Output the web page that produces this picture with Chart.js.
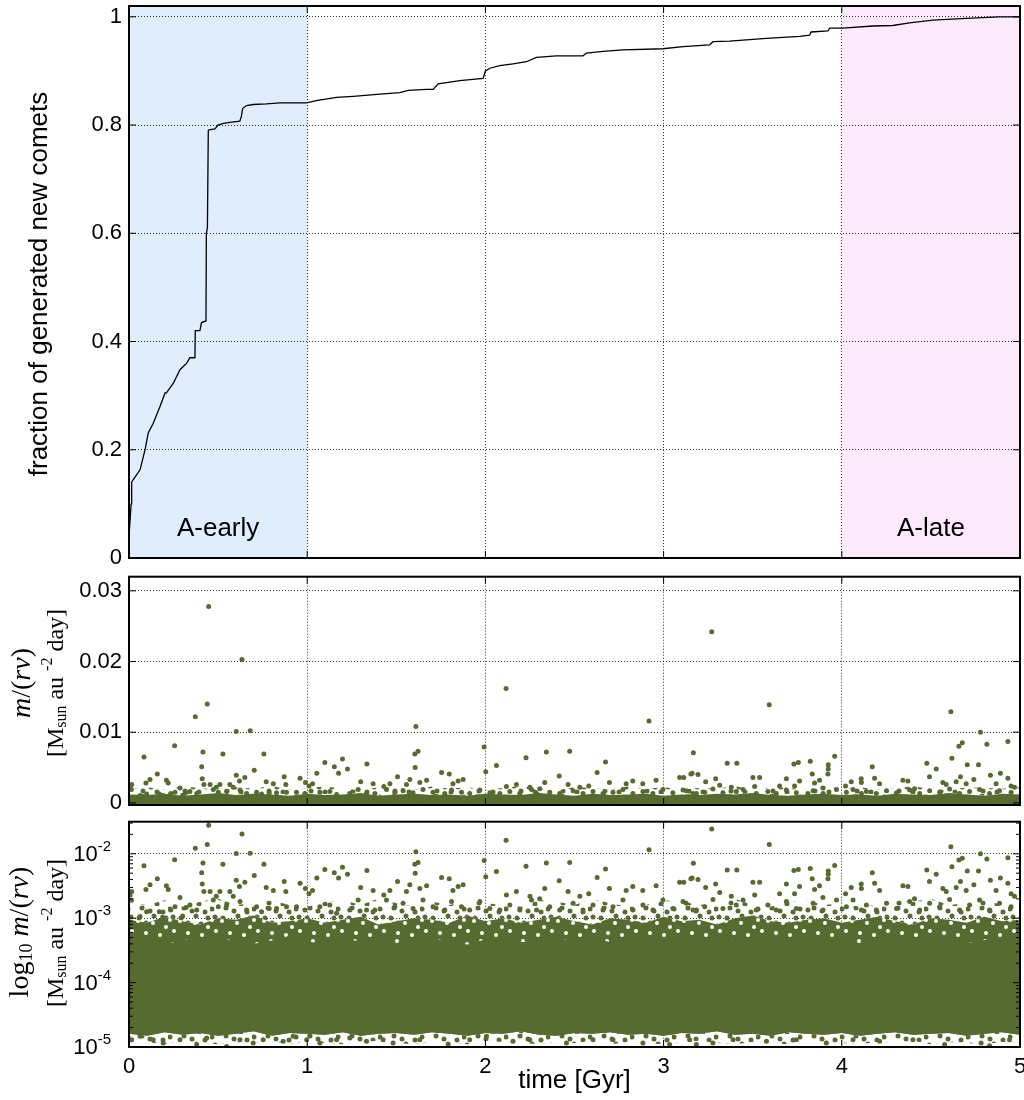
<!DOCTYPE html>
<html>
<head>
<meta charset="utf-8">
<script src="https://cdn.jsdelivr.net/npm/chart.js@4.4.1/dist/chart.umd.min.js"></script>
<style>
  body { margin: 0; background: #fff; }
  .panel { position: absolute; left: 0; width: 1024px; }
</style>
</head>
<body>
<div class="panel" style="top:0;height:570px"><canvas id="cdf"></canvas></div>
<div class="panel" style="top:570px;height:240px"><canvas id="lin"></canvas></div>
<div class="panel" style="top:810px;height:290px"><canvas id="log"></canvas></div>
<script>
// ---- axes ----
const xTicks = [0, 1, 2, 3, 4, 5];
const cdfTicks = [0, 0.2, 0.4, 0.6, 0.8, 1];
const linTicks = [0, 0.01, 0.02, 0.03];
const logTicks = [1e-5, 1e-4, 1e-3, 1e-2];

// ---- shaded epochs in the top panel ----
const regionNames = ['A-early', 'A-late'];
const regionStart = [0, 4];
const regionEnd = [1, 5];
const regionColors = ['#dfedfc', '#fdeafc'];

// ---- cumulative fraction of generated new comets ----
const cdfTime = [0, 0.012, 0.015, 0.024, 0.062, 0.09, 0.108, 0.136, 0.174, 0.202,
  0.21, 0.249, 0.286, 0.324, 0.342, 0.37, 0.372, 0.398, 0.407, 0.432,
  0.434, 0.44, 0.445, 0.45, 0.482, 0.5, 0.53, 0.566, 0.622, 0.63,
  0.638, 0.66, 0.697, 0.772, 0.847, 0.997, 1.05, 1.165, 1.258, 1.408,
  1.52, 1.567, 1.67, 1.707, 1.735, 1.856, 1.987, 2.0, 2.025, 2.08,
  2.155, 2.23, 2.286, 2.398, 2.548, 2.567, 2.66, 2.772, 2.997, 3.109,
  3.258, 3.277, 3.37, 3.577, 3.763, 3.819, 3.828, 3.922, 3.932, 4.006,
  4.174, 4.286, 4.38, 4.511, 4.698, 4.885, 5.0];
const cdfFraction = [0.04, 0.1, 0.14, 0.145, 0.163, 0.2, 0.231, 0.249, 0.28, 0.305,
  0.305, 0.323, 0.348, 0.36, 0.37, 0.37, 0.42, 0.42, 0.435, 0.438,
  0.6, 0.61, 0.79, 0.791, 0.793, 0.8, 0.803, 0.805, 0.807, 0.815,
  0.831, 0.836, 0.838, 0.839, 0.841, 0.841, 0.845, 0.851, 0.853, 0.857,
  0.86, 0.864, 0.866, 0.866, 0.876, 0.882, 0.886, 0.9, 0.905, 0.91,
  0.913, 0.917, 0.925, 0.928, 0.928, 0.933, 0.936, 0.939, 0.941, 0.945,
  0.948, 0.954, 0.955, 0.96, 0.964, 0.966, 0.972, 0.974, 0.979, 0.979,
  0.983, 0.984, 0.989, 0.994, 0.997, 1.0, 1.0];

// ---- m/(rv) of individual comets: [time Gyr, value] ----
const outlierPoints = [
  [0.447, 0.0278], [0.634, 0.0203], [0.439, 0.014], [0.372, 0.0122], [0.602, 0.0101],
  [0.68, 0.0102], [0.084, 0.0065], [0.256, 0.0081], [0.415, 0.0072], [0.408, 0.0051],
  [0.527, 0.0069], [0.757, 0.0069], [0.703, 0.0046], [0.602, 0.0039], [0.159, 0.0041],
  [0.871, 0.0037], [1.054, 0.0042], [1.099, 0.0057], [1.152, 0.0051], [1.176, 0.0042],
  [1.198, 0.0062], [1.226, 0.0048], [1.335, 0.0055], [1.507, 0.0037], [1.604, 0.0069],
  [1.606, 0.005], [1.61, 0.0108], [1.622, 0.0073], [1.754, 0.0043], [1.797, 0.0041],
  [1.993, 0.0079], [2.002, 0.0044], [2.062, 0.0053], [2.116, 0.0162], [2.228, 0.0064],
  [2.342, 0.0072], [2.414, 0.0038], [2.473, 0.0073], [2.627, 0.0043], [2.674, 0.0058],
  [2.918, 0.0116], [3.153, 0.0041], [3.16, 0.0042], [3.167, 0.0071], [3.27, 0.0242],
  [3.357, 0.0056], [3.411, 0.0056], [3.593, 0.0139], [3.731, 0.0055], [3.756, 0.0057],
  [3.823, 0.0059], [3.834, 0.0041], [3.922, 0.0041], [3.924, 0.0054], [3.924, 0.0048],
  [3.96, 0.0066], [4.171, 0.0051], [4.477, 0.0056], [4.53, 0.0048], [4.612, 0.0129],
  [4.618, 0.0063], [4.657, 0.008], [4.676, 0.0085], [4.704, 0.0054], [4.767, 0.0054],
  [4.778, 0.01], [4.814, 0.0083], [4.834, 0.0039], [4.89, 0.0042], [4.932, 0.0087]
];
const midPoints = [
  [0.006, 2.3e-3], [0.014, 1.9e-3], [0.015, 2.6e-3], [0.095, 2.8e-3], [0.118, 3.3e-3],
  [0.21, 3.2e-3], [0.22, 2.8e-3], [0.286, 2.1e-3], [0.411, 3.4e-3], [0.42, 2.6e-3],
  [0.455, 2.6e-3], [0.49, 2.2e-3], [0.51, 2.6e-3], [0.566, 2.6e-3], [0.585, 2.2e-3],
  [0.62, 3.1e-3], [0.65, 3.6e-3], [0.77, 3.0e-3], [0.81, 2.7e-3], [0.88, 2.6e-3],
  [0.96, 3.5e-3], [0.99, 2.9e-3], [1.01, 2.4e-3], [1.03, 2.7e-3], [1.3, 3.0e-3],
  [1.37, 2.7e-3], [1.43, 2.3e-3], [1.464, 2.7e-3], [1.557, 2.6e-3], [1.576, 3.3e-3],
  [1.632, 2.9e-3], [1.67, 3.2e-3], [1.818, 2.7e-3], [1.847, 3.1e-3], [1.875, 3.3e-3],
  [2.118, 2.3e-3], [2.174, 2.6e-3], [2.25, 2.2e-3], [2.305, 2.0e-3], [2.333, 2.9e-3],
  [2.464, 2.6e-3], [2.53, 2.2e-3], [2.58, 2.4e-3], [2.696, 2.9e-3], [2.79, 2.7e-3],
  [2.827, 3.1e-3], [2.883, 2.7e-3], [2.958, 3.2e-3], [3.09, 3.6e-3], [3.113, 3.6e-3],
  [3.193, 4.0e-3], [3.236, 3.0e-3], [3.292, 3.4e-3], [3.315, 2.5e-3], [3.38, 2.2e-3],
  [3.501, 3.6e-3], [3.511, 2.3e-3], [3.539, 3.6e-3], [3.651, 2.4e-3], [3.689, 3.4e-3],
  [3.735, 2.4e-3], [3.763, 3.1e-3], [3.847, 2.8e-3], [3.875, 3.2e-3], [3.894, 2.1e-3],
  [4.021, 2.4e-3], [4.053, 3.0e-3], [4.109, 3.4e-3], [4.11, 2.9e-3], [4.184, 3.5e-3],
  [4.212, 2.7e-3], [4.343, 3.2e-3], [4.371, 3.1e-3], [4.408, 2.0e-3], [4.492, 3.7e-3],
  [4.567, 2.9e-3], [4.586, 2.6e-3], [4.642, 3.0e-3], [4.666, 3.7e-3], [4.698, 2.7e-3],
  [4.741, 3.3e-3], [4.866, 2.7e-3], [4.932, 3.5e-3], [4.95, 2.4e-3], [4.969, 2.2e-3]
];
const edgePoints = [
  [0.062, 1.06e-3], [0.099, 1.26e-3], [0.17, 1.26e-3], [0.189, 1.03e-3], [0.234, 1.34e-3],
  [0.258, 1.51e-3], [0.301, 1.08e-3], [0.32, 1.46e-3], [0.342, 1.6e-3], [0.38, 1.34e-3],
  [0.473, 1.91e-3], [0.501, 1.51e-3], [0.548, 1.6e-3], [0.623, 1.81e-3], [0.66, 1.34e-3],
  [0.716, 1.51e-3], [0.744, 1.26e-3], [0.787, 1.42e-3], [0.828, 1.42e-3], [0.884, 1.51e-3],
  [0.94, 1.51e-3], [0.987, 1.34e-3], [1.071, 1.51e-3], [1.127, 1.6e-3], [1.165, 1.19e-3],
  [1.239, 1.34e-3], [1.286, 1.91e-3], [1.333, 1.34e-3], [1.38, 1.34e-3], [1.445, 1.91e-3],
  [1.492, 1.51e-3], [1.538, 1.7e-3], [1.594, 1.42e-3], [1.65, 1.91e-3], [1.706, 1.51e-3],
  [1.772, 1.34e-3], [1.81, 1.81e-3], [1.866, 1.51e-3], [1.912, 1.34e-3], [1.969, 1.81e-3],
  [2.025, 1.42e-3], [2.081, 1.34e-3], [2.137, 1.6e-3], [2.193, 1.34e-3], [2.259, 1.91e-3],
  [2.287, 1.34e-3], [2.361, 1.51e-3], [2.417, 1.34e-3], [2.492, 1.7e-3], [2.548, 1.34e-3],
  [2.604, 1.6e-3], [2.66, 1.34e-3], [2.716, 1.51e-3], [2.772, 1.91e-3], [2.828, 1.34e-3],
  [2.884, 1.6e-3], [2.94, 1.34e-3], [2.996, 1.91e-3], [3.052, 1.42e-3], [3.127, 1.7e-3],
  [3.184, 1.34e-3], [3.109, 1.81e-3], [3.165, 1.34e-3], [3.231, 1.51e-3], [3.277, 1.95e-3],
  [3.333, 1.42e-3], [3.408, 1.6e-3], [3.446, 1.91e-3], [3.52, 1.34e-3], [3.585, 1.6e-3],
  [3.632, 1.34e-3], [3.689, 1.81e-3], [3.745, 1.42e-3], [3.81, 1.34e-3], [3.839, 1.7e-3],
  [3.895, 1.34e-3], [3.97, 1.91e-3], [4.026, 1.51e-3], [4.063, 1.91e-3], [4.11, 1.34e-3],
  [4.138, 1.6e-3], [4.194, 1.34e-3], [4.251, 1.7e-3], [4.307, 1.42e-3], [4.381, 1.81e-3],
  [4.437, 1.34e-3], [4.493, 1.7e-3], [4.549, 1.51e-3], [4.605, 1.95e-3], [4.661, 1.34e-3],
  [4.717, 1.6e-3], [4.773, 1.91e-3], [4.829, 1.34e-3], [4.885, 1.7e-3], [4.95, 1.51e-3]
];
const lowPoints = [
  [0.015, 1.3e-5], [0.062, 1.47e-5], [0.136, 1.3e-5], [0.192, 1.15e-5], [0.286, 1.3e-5],
  [0.38, 1.09e-5], [0.436, 1.38e-5], [0.548, 1.02e-5], [0.623, 1.3e-5], [0.697, 1.15e-5],
  [0.753, 1.3e-5], [0.865, 1.23e-5], [0.921, 1.47e-5], [0.997, 1.3e-5], [1.071, 1.15e-5],
  [1.165, 1.3e-5], [1.239, 1.38e-5], [1.333, 1.23e-5], [1.426, 1.3e-5], [1.482, 1.15e-5],
  [1.632, 1.3e-5], [1.791, 1.09e-5], [1.912, 1.3e-5], [2.006, 1.47e-5], [2.155, 1.23e-5],
  [2.249, 1.3e-5], [2.455, 1.15e-5], [2.604, 1.3e-5], [2.716, 1.3e-5], [2.884, 1.15e-5],
  [3.034, 1.09e-5], [3.146, 1.3e-5], [3.184, 1.09e-5], [3.277, 1.15e-5], [3.39, 1.3e-5],
  [3.577, 1.23e-5], [3.745, 1.3e-5], [3.913, 1.15e-5], [4.063, 1.3e-5], [4.212, 1.23e-5],
  [4.399, 1.3e-5], [4.577, 1.09e-5], [4.782, 1.15e-5], [4.829, 1.05e-5], [4.941, 1.3e-5]
];

// ---- envelopes of the dense cloud (too many comets to list one by one) ----
const bandTime = [0, 0.1, 0.2, 0.3, 0.4, 0.5, 0.6, 0.7, 0.8, 0.9,
  1.0, 1.1, 1.2, 1.3, 1.4, 1.5, 1.6, 1.7, 1.8, 1.9,
  2.0, 2.1, 2.2, 2.3, 2.4, 2.5, 2.6, 2.7, 2.8, 2.9,
  3.0, 3.1, 3.2, 3.3, 3.4, 3.5, 3.6, 3.7, 3.8, 3.9,
  4.0, 4.1, 4.2, 4.3, 4.4, 4.5, 4.6, 4.7, 4.8, 4.9, 5.0];
// linear panel: top of the solid strip, top of the speckled zone above it
const stripTop = [1.2e-3, 1.1e-3, 1.3e-3, 1.0e-3, 1.2e-3, 1.4e-3, 1.1e-3, 1.3e-3, 1.2e-3, 1.0e-3,
  1.3e-3, 1.1e-3, 1.2e-3, 1.4e-3, 1.0e-3, 1.2e-3, 1.3e-3, 1.1e-3, 1.2e-3, 1.0e-3,
  1.3e-3, 1.2e-3, 1.1e-3, 1.4e-3, 1.2e-3, 1.0e-3, 1.3e-3, 1.1e-3, 1.2e-3, 1.3e-3,
  1.0e-3, 1.2e-3, 1.1e-3, 1.3e-3, 1.2e-3, 1.4e-3, 1.1e-3, 1.0e-3, 1.2e-3, 1.3e-3,
  1.1e-3, 1.2e-3, 1.0e-3, 1.3e-3, 1.2e-3, 1.1e-3, 1.4e-3, 1.2e-3, 1.0e-3, 1.3e-3, 1.2e-3];
const stripSpeck = [2.0e-3, 2.2e-3, 1.9e-3, 2.3e-3, 2.1e-3, 1.8e-3, 2.2e-3, 2.0e-3, 2.4e-3, 1.9e-3,
  2.1e-3, 2.3e-3, 2.0e-3, 1.8e-3, 2.2e-3, 2.1e-3, 1.9e-3, 2.3e-3, 2.0e-3, 2.2e-3,
  1.9e-3, 2.1e-3, 2.4e-3, 2.0e-3, 1.8e-3, 2.2e-3, 2.1e-3, 1.9e-3, 2.3e-3, 2.0e-3,
  2.2e-3, 1.9e-3, 2.1e-3, 2.0e-3, 2.4e-3, 1.8e-3, 2.2e-3, 2.1e-3, 1.9e-3, 2.3e-3,
  2.0e-3, 2.2e-3, 1.9e-3, 2.1e-3, 2.3e-3, 2.0e-3, 1.8e-3, 2.2e-3, 2.1e-3, 2.0e-3, 2.2e-3];
// log panel: speckled floor, solid core (low/high), holed zone up to denseTop, loose speckle up to speckTop
const floorLow = [1.15e-5, 1.2e-5, 1.1e-5, 1.25e-5, 1.15e-5, 1.1e-5, 1.2e-5, 1.15e-5, 1.25e-5, 1.1e-5,
  1.2e-5, 1.15e-5, 1.1e-5, 1.2e-5, 1.25e-5, 1.15e-5, 1.1e-5, 1.2e-5, 1.15e-5, 1.1e-5,
  1.25e-5, 1.2e-5, 1.15e-5, 1.1e-5, 1.2e-5, 1.15e-5, 1.25e-5, 1.1e-5, 1.2e-5, 1.15e-5,
  1.1e-5, 1.2e-5, 1.25e-5, 1.15e-5, 1.1e-5, 1.2e-5, 1.15e-5, 1.1e-5, 1.25e-5, 1.2e-5,
  1.15e-5, 1.1e-5, 1.2e-5, 1.15e-5, 1.25e-5, 1.1e-5, 1.2e-5, 1.15e-5, 1.1e-5, 1.2e-5, 1.15e-5];
const coreLow = [1.6e-5, 1.5e-5, 1.7e-5, 1.55e-5, 1.65e-5, 1.5e-5, 1.6e-5, 1.75e-5, 1.5e-5, 1.65e-5,
  1.6e-5, 1.55e-5, 1.7e-5, 1.5e-5, 1.6e-5, 1.65e-5, 1.55e-5, 1.7e-5, 1.6e-5, 1.5e-5,
  1.65e-5, 1.6e-5, 1.75e-5, 1.55e-5, 1.5e-5, 1.65e-5, 1.6e-5, 1.7e-5, 1.55e-5, 1.6e-5,
  1.5e-5, 1.65e-5, 1.6e-5, 1.75e-5, 1.55e-5, 1.6e-5, 1.5e-5, 1.7e-5, 1.6e-5, 1.55e-5,
  1.65e-5, 1.5e-5, 1.6e-5, 1.7e-5, 1.55e-5, 1.6e-5, 1.65e-5, 1.5e-5, 1.6e-5, 1.7e-5, 1.55e-5];
const coreHigh = [4.4e-4, 4.8e-4, 3.9e-4, 4.6e-4, 5.1e-4, 4.2e-4, 5.0e-4, 4.0e-4, 4.5e-4, 5.3e-4,
  4.3e-4, 4.0e-4, 4.8e-4, 4.4e-4, 5.2e-4, 4.1e-4, 4.6e-4, 5.0e-4, 4.2e-4, 3.9e-4,
  4.7e-4, 5.1e-4, 4.3e-4, 4.0e-4, 4.9e-4, 4.5e-4, 5.3e-4, 4.2e-4, 4.4e-4, 5.0e-4,
  4.1e-4, 4.6e-4, 5.2e-4, 4.3e-4, 4.8e-4, 4.4e-4, 5.4e-4, 4.2e-4, 4.6e-4, 5.0e-4,
  4.5e-4, 4.0e-4, 4.8e-4, 5.3e-4, 4.3e-4, 4.7e-4, 5.1e-4, 4.1e-4, 4.6e-4, 5.0e-4, 4.4e-4];
const denseTop = [9.5e-4, 8.5e-4, 10.5e-4, 9.0e-4, 8.0e-4, 10.0e-4, 9.5e-4, 11.0e-4, 8.5e-4, 9.0e-4,
  10.0e-4, 8.5e-4, 9.5e-4, 10.5e-4, 8.0e-4, 9.0e-4, 10.0e-4, 9.5e-4, 8.5e-4, 11.0e-4,
  9.0e-4, 10.0e-4, 8.5e-4, 9.5e-4, 10.5e-4, 9.0e-4, 8.0e-4, 10.0e-4, 9.5e-4, 8.5e-4,
  10.5e-4, 9.0e-4, 9.5e-4, 8.0e-4, 10.0e-4, 11.0e-4, 9.0e-4, 8.5e-4, 9.5e-4, 10.0e-4,
  8.5e-4, 9.5e-4, 10.5e-4, 9.0e-4, 8.0e-4, 10.0e-4, 9.5e-4, 8.5e-4, 10.5e-4, 9.0e-4, 9.5e-4];
const speckTop = [1.7e-3, 1.6e-3, 1.9e-3, 1.5e-3, 1.8e-3, 2.0e-3, 1.6e-3, 1.7e-3, 1.9e-3, 1.6e-3,
  1.5e-3, 1.8e-3, 1.9e-3, 1.6e-3, 2.0e-3, 1.7e-3, 1.5e-3, 1.8e-3, 1.6e-3, 1.9e-3,
  1.7e-3, 1.6e-3, 1.5e-3, 1.9e-3, 1.8e-3, 1.6e-3, 2.0e-3, 1.7e-3, 1.5e-3, 1.6e-3,
  1.9e-3, 1.8e-3, 1.6e-3, 1.7e-3, 2.0e-3, 1.6e-3, 1.5e-3, 1.8e-3, 1.9e-3, 1.6e-3,
  1.7e-3, 1.5e-3, 1.6e-3, 1.9e-3, 1.8e-3, 2.0e-3, 1.6e-3, 1.7e-3, 1.9e-3, 1.6e-3, 1.7e-3];

// ---- look ----
const SANS = '"Liberation Sans", Arial, sans-serif';
const SERIF = '"Liberation Serif", "Times New Roman", serif';
const GREEN = '#556b2f';
const AXIS_LEFT = 129;

Chart.defaults.font.family = SANS;
Chart.defaults.color = '#000';

const xy = (xs, ys) => xs.map((x, i) => ({ x, y: ys[i] }));
const pairs = list => list.map(p => ({ x: p[0], y: p[1] }));
const fixTicks = list => scale => { scale.ticks = list.map(v => ({ value: v })); };

// fill textures for the fringes of the cloud (tile-local spot positions)
const LOOSE_SPOTS = [[2, 3], [16, 2], [24, 5], [37, 6], [5, 11], [13, 12], [28, 10], [40, 12],
  [20, 17], [33, 18], [3, 20], [10, 24], [25, 25], [38, 25], [17, 29], [31, 30]];
const HOLE_SPOTS = [[5, 6], [19, 3], [33, 8], [12, 15], [27, 17], [40, 21], [6, 25], [20, 27],
  [34, 29], [24, 9], [2, 14]];
function texture(canvasId, spots, bg, fg, r) {
  const tile = document.createElement('canvas');
  tile.width = 42; tile.height = 32;
  const g = tile.getContext('2d');
  if (bg) { g.fillStyle = bg; g.fillRect(0, 0, 42, 32); }
  g.fillStyle = fg;
  spots.forEach(([x, y]) => { g.beginPath(); g.arc(x, y, r, 0, Math.PI * 2); g.fill(); });
  return document.getElementById(canvasId).getContext('2d').createPattern(tile, 'repeat');
}

const gridOpts = { color: 'rgba(0,0,0,0.8)', lineWidth: 1, drawTicks: false };
const borderOpts = { display: false, dash: [1, 2] };

function xScale(height, showLabels) {
  return {
    type: 'linear', min: 0, max: 5,
    afterBuildTicks: fixTicks(xTicks),
    grid: gridOpts, border: borderOpts,
    ticks: { display: showLabels, font: { size: 22 }, padding: 7, maxRotation: 0 },
    title: { display: showLabels, text: 'time [Gyr]', font: { size: 26 }, padding: { top: 0, bottom: 4 } },
    afterFit: s => { s.height = height; s.paddingLeft = 0; s.paddingRight = 0; }
  };
}
function fitY(s) { s.width = AXIS_LEFT; s.paddingTop = 0; s.paddingBottom = 0; }

function textWidth(ctx, parts) {
  let w = 0;
  parts.forEach(p => { ctx.font = p[1]; w += ctx.measureText(p[0]).width; });
  return w;
}
// draws text pieces with their own font and raise, centred on (cx, cy)
function drawRich(ctx, parts, cx, cy) {
  let x = cx - textWidth(ctx, parts) / 2;
  parts.forEach(p => {
    ctx.font = p[1];
    ctx.fillText(p[0], x, cy - (p[2] || 0));
    x += ctx.measureText(p[0]).width;
  });
}

const unitLine = [['[M', '24px ' + SERIF], ['sun', '16px ' + SERIF, -5], [' au ', '24px ' + SERIF],
  ['-2', '16px ' + SERIF, 9], [' day]', '24px ' + SERIF]];
const mrvParts = [['m', 'italic 28px ' + SERIF], ['/(', '28px ' + SERIF],
  ['rv', 'italic 28px ' + SERIF], [')', '28px ' + SERIF]];

// frame, inward ticks, shading and hand-set labels (gnuplot look)
const panelPlugin = {
  id: 'panel',
  beforeDraw(chart, args, o) {
    if (!o.regions) return;
    const { ctx, chartArea: a, scales: { x } } = chart;
    ctx.save();
    regionNames.forEach((name, i) => {
      const x0 = x.getPixelForValue(regionStart[i]);
      const x1 = x.getPixelForValue(regionEnd[i]);
      ctx.fillStyle = regionColors[i];
      ctx.fillRect(x0, a.top, x1 - x0, a.height);
    });
    ctx.restore();
  },
  afterDraw(chart, args, o) {
    const { ctx, chartArea: a, scales: { x, y } } = chart;
    ctx.save();
    ctx.fillStyle = '#000';
    ctx.textBaseline = 'middle';
    if (o.regions) {
      ctx.font = '26px ' + SANS;
      ctx.textAlign = 'center';
      regionNames.forEach((name, i) => {
        ctx.fillText(name, x.getPixelForValue((regionStart[i] + regionEnd[i]) / 2), y.getPixelForValue(o.labelAt));
      });
    }
    ctx.strokeStyle = '#000';
    ctx.lineWidth = 1;
    ctx.beginPath();
    x.ticks.forEach(t => {
      const px = x.getPixelForValue(t.value);
      ctx.moveTo(px, a.bottom); ctx.lineTo(px, a.bottom - 7);
      ctx.moveTo(px, a.top); ctx.lineTo(px, a.top + 7);
    });
    y.ticks.forEach(t => {
      const py = y.getPixelForValue(t.value);
      ctx.moveTo(a.left, py); ctx.lineTo(a.left + 7, py);
      ctx.moveTo(a.right, py); ctx.lineTo(a.right - 7, py);
    });
    if (o.log) {
      logTicks.forEach(d => {
        for (let k = 2; k < 10; k++) {
          if (d * k > y.max) break;
          const py = y.getPixelForValue(d * k);
          ctx.moveTo(a.left, py); ctx.lineTo(a.left + 4, py);
          ctx.moveTo(a.right, py); ctx.lineTo(a.right - 4, py);
        }
      });
    }
    ctx.stroke();
    ctx.lineWidth = 2;
    ctx.strokeRect(a.left, a.top, a.width, a.height);

    if (o.log) {
      ctx.textAlign = 'left';
      logTicks.forEach(v => {
        const parts = [['10', '22px ' + SANS], [String(Math.round(Math.log10(v))), '15px ' + SANS, 8]];
        const w = textWidth(ctx, parts);
        drawRich(ctx, parts, 111 - w / 2, y.getPixelForValue(v) + 1);
      });
    }
    ctx.textAlign = 'left';
    o.title.forEach(line => {
      ctx.save();
      ctx.translate(line.x, line.y);
      ctx.rotate(-Math.PI / 2);
      drawRich(ctx, line.parts, 0, 0);
      ctx.restore();
    });
    ctx.restore();
  }
};

const dots = data => ({
  type: 'scatter', data, pointRadius: 2.5, pointHoverRadius: 2.5,
  pointBackgroundColor: GREEN, pointBorderWidth: 0, clip: 0
});
const allDots = () => [dots(pairs(outlierPoints)), dots(pairs(midPoints)), dots(pairs(edgePoints)), dots(pairs(lowPoints))];
const edge = (ys, fill, bg) => ({
  type: 'line', data: xy(bandTime, ys), borderWidth: 0, pointRadius: 0, tension: 0,
  fill, backgroundColor: bg
});

// ---- top: cumulative fraction ----
new Chart(document.getElementById('cdf'), {
  type: 'line',
  data: {
    datasets: [{
      data: xy(cdfTime, cdfFraction),
      borderColor: '#000', borderWidth: 1.3, pointRadius: 0, tension: 0, fill: false
    }]
  },
  options: {
    responsive: true, maintainAspectRatio: false, animation: false,
    layout: { padding: { top: 6, right: 4, left: 0, bottom: 0 } },
    plugins: {
      legend: { display: false }, tooltip: { enabled: false },
      panel: {
        regions: true, labelAt: 0.053,
        title: [{ x: 40, y: 284, parts: [['fraction of generated new comets', '26px ' + SANS]] }]
      }
    },
    scales: {
      x: xScale(12, false),
      y: {
        min: 0, max: 1.02,
        afterBuildTicks: fixTicks(cdfTicks),
        grid: gridOpts, border: borderOpts,
        ticks: { font: { size: 22 }, padding: 7, callback: v => String(v) },
        afterFit: fitY
      }
    }
  },
  plugins: [panelPlugin]
});

// ---- middle: m/(rv), linear ----
new Chart(document.getElementById('lin'), {
  type: 'scatter',
  data: {
    datasets: [
      ...allDots(),
      edge(stripTop, 'start', GREEN),   // index 4
      edge(stripSpeck, 4, texture('lin', LOOSE_SPOTS, null, GREEN, 2.5))
    ]
  },
  options: {
    responsive: true, maintainAspectRatio: false, animation: false,
    layout: { padding: { top: 6.7, right: 4, left: 0, bottom: 0 } },
    plugins: {
      legend: { display: false }, tooltip: { enabled: false },
      panel: { title: [{ x: 23, y: 113, parts: mrvParts }, { x: 57, y: 113, parts: unitLine }] }
    },
    scales: {
      x: xScale(5, false),
      y: {
        min: -0.0003, max: 0.032,
        afterBuildTicks: fixTicks(linTicks),
        grid: gridOpts, border: borderOpts,
        ticks: { font: { size: 22 }, padding: 7, callback: v => String(v) },
        afterFit: fitY
      }
    }
  },
  plugins: [panelPlugin]
});

// ---- bottom: m/(rv), log ----
// the holed zone is filled down to the core's floor so the solid core covers its lower part (no seam)
const loose = texture('log', LOOSE_SPOTS, null, GREEN, 2.5);
new Chart(document.getElementById('log'), {
  type: 'scatter',
  data: {
    datasets: [
      ...allDots(),
      edge(coreLow, false),                                            // index 4
      edge(coreHigh, 4, GREEN),                                        // index 5
      edge(denseTop, 4, texture('log', HOLE_SPOTS, GREEN, '#fff', 2)), // index 6
      edge(speckTop, 6, loose),
      edge(floorLow, 4, loose)
    ]
  },
  options: {
    responsive: true, maintainAspectRatio: false, animation: false,
    layout: { padding: { top: 11.7, right: 4, left: 0, bottom: 0 } },
    plugins: {
      legend: { display: false }, tooltip: { enabled: false },
      panel: {
        log: true,
        title: [
          { x: 21, y: 122, parts: [['log', '28px ' + SERIF], ['10', '18px ' + SERIF, -6], [' ', '28px ' + SERIF], ...mrvParts] },
          { x: 57, y: 123, parts: unitLine }
        ]
      }
    },
    scales: {
      x: xScale(53, true),
      y: {
        type: 'logarithmic', min: 1e-5, max: 0.0315,
        afterBuildTicks: fixTicks(logTicks),
        grid: gridOpts, border: borderOpts,
        ticks: { display: false },
        afterFit: fitY
      }
    }
  },
  plugins: [panelPlugin]
});
</script>
</body>
</html>
